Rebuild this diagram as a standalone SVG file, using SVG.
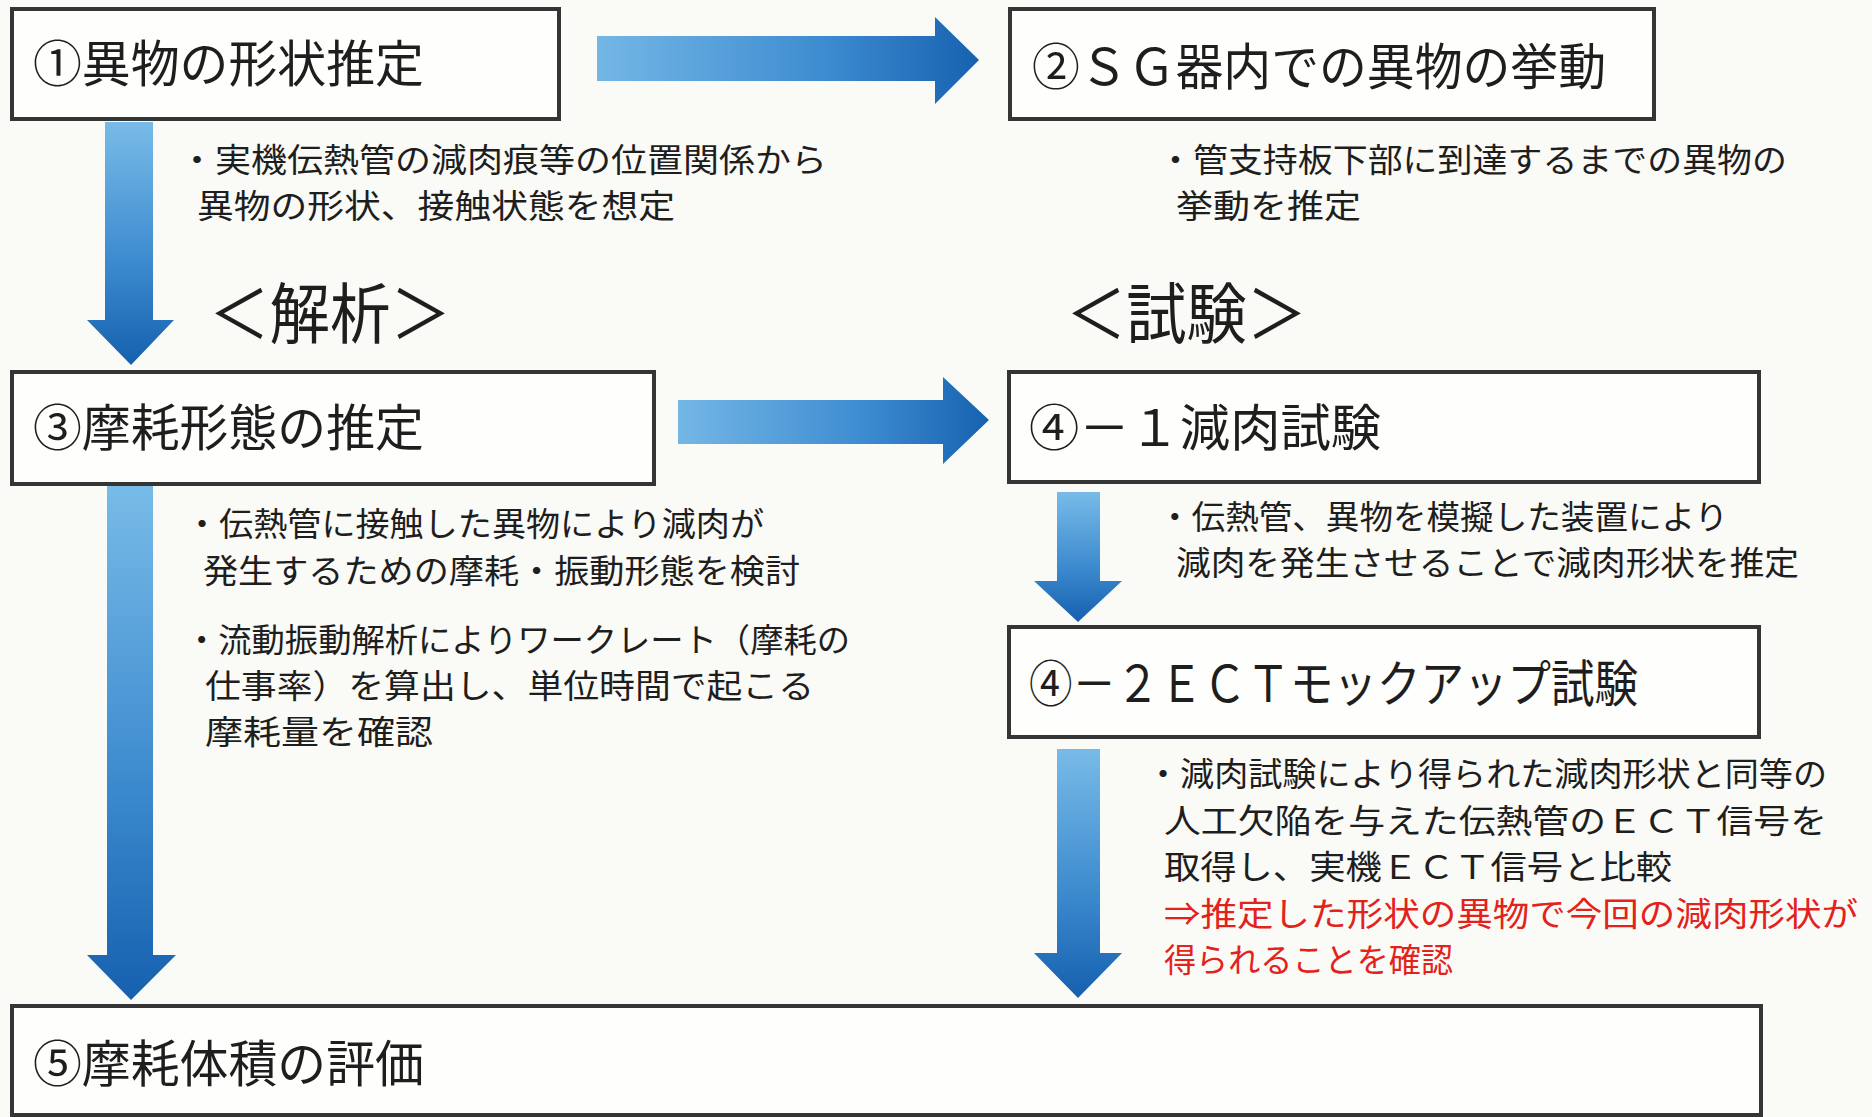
<svg xmlns="http://www.w3.org/2000/svg" width="1872" height="1117" viewBox="0 0 1872 1117">
<style>
.box{fill:#fefefc;stroke:#353535;stroke-width:4}
.t{font-family:"Noto Sans CJK JP","Noto Sans",sans-serif;fill:#1e1e1e}
.ttl{font-size:50px}
.bd{font-size:33px}
.big{font-size:66px}
.red{fill:#e3221c}
</style>
<defs>
<linearGradient id="gr" x1="0" y1="0" x2="1" y2="0">
<stop offset="0" stop-color="#74b7e6"/>
<stop offset="0.6" stop-color="#3d8bd0"/>
<stop offset="1" stop-color="#1762b0"/>
</linearGradient>
<linearGradient id="gd" x1="0" y1="0" x2="0" y2="1">
<stop offset="0" stop-color="#78bbe8"/>
<stop offset="0.6" stop-color="#3a88cd"/>
<stop offset="1" stop-color="#1660ae"/>
</linearGradient>
</defs>
<rect width="1872" height="1117" fill="#fafaf6"/>
<g id="connectors">
<path d="M597,36 H935 V17 L979,60 L935,104 V81 H597 Z" fill="url(#gr)"/>
<path d="M678,400 H943 V377 L989,420 L943,464 V444 H678 Z" fill="url(#gr)"/>
<path d="M105,122 H153 V320 H174 L131,365 L87,320 H105 Z" fill="url(#gd)"/>
<path d="M107,486 H153 V955 H176 L131,1000 L87,955 H107 Z" fill="url(#gd)"/>
<path d="M1057,492 H1100 V581 H1122 L1078,622 L1034,581 H1057 Z" fill="url(#gd)"/>
<path d="M1057,749 H1100 V953 H1122 L1078,998 L1034,953 H1057 Z" fill="url(#gd)"/>
</g>
<g id="node1">
<rect class="box" x="12" y="9" width="547" height="110"/>
<text class="t ttl" x="33" y="82" textLength="391" lengthAdjust="spacingAndGlyphs">①異物の形状推定</text>
<text class="t bd" x="179" y="172" textLength="648" lengthAdjust="spacingAndGlyphs">・実機伝熱管の減肉痕等の位置関係から</text>
<text class="t bd" x="197" y="218" textLength="478" lengthAdjust="spacingAndGlyphs">異物の形状、接触状態を想定</text>
</g>
<g id="node2">
<rect class="box" x="1010" y="9" width="644" height="110"/>
<text class="t ttl" x="1032" y="85" textLength="574" lengthAdjust="spacingAndGlyphs">②ＳＧ器内での異物の挙動</text>
<text class="t bd" x="1158" y="172" textLength="629" lengthAdjust="spacingAndGlyphs">・管支持板下部に到達するまでの異物の</text>
<text class="t bd" x="1176" y="218" textLength="185" lengthAdjust="spacingAndGlyphs">挙動を推定</text>
</g>
<g id="label-analysis">
<text class="t big" x="209" y="338" textLength="242" lengthAdjust="spacingAndGlyphs">＜解析＞</text>
</g>
<g id="label-test">
<text class="t big" x="1066" y="338" textLength="241" lengthAdjust="spacingAndGlyphs">＜試験＞</text>
</g>
<g id="node3">
<rect class="box" x="12" y="372" width="642" height="112"/>
<text class="t ttl" x="33" y="446" textLength="391" lengthAdjust="spacingAndGlyphs">③摩耗形態の推定</text>
<text class="t bd" x="185" y="536" textLength="579" lengthAdjust="spacingAndGlyphs">・伝熱管に接触した異物により減肉が</text>
<text class="t bd" x="203" y="583" textLength="597" lengthAdjust="spacingAndGlyphs">発生するための摩耗・振動形態を検討</text>
<text class="t bd" x="185" y="652" textLength="665" lengthAdjust="spacingAndGlyphs">・流動振動解析によりワークレート（摩耗の</text>
<text class="t bd" x="205" y="698" textLength="609" lengthAdjust="spacingAndGlyphs">仕事率）を算出し、単位時間で起こる</text>
<text class="t bd" x="205" y="744" textLength="228" lengthAdjust="spacingAndGlyphs">摩耗量を確認</text>
</g>
<g id="node4-1">
<rect class="box" x="1009" y="372" width="750" height="110"/>
<text class="t ttl" x="1029" y="446" textLength="352" lengthAdjust="spacingAndGlyphs">④－１減肉試験</text>
<text class="t bd" x="1158" y="529" textLength="570" lengthAdjust="spacingAndGlyphs">・伝熱管、異物を模擬した装置により</text>
<text class="t bd" x="1176" y="575" textLength="623" lengthAdjust="spacingAndGlyphs">減肉を発生させることで減肉形状を推定</text>
</g>
<g id="node4-2">
<rect class="box" x="1009" y="627" width="750" height="110"/>
<text class="t ttl" x="1029" y="702" textLength="609" lengthAdjust="spacingAndGlyphs">④－２ＥＣＴモックアップ試験</text>
<text class="t bd" x="1146" y="786" textLength="681" lengthAdjust="spacingAndGlyphs">・減肉試験により得られた減肉形状と同等の</text>
<text class="t bd" x="1164" y="833" textLength="663" lengthAdjust="spacingAndGlyphs">人工欠陥を与えた伝熱管のＥＣＴ信号を</text>
<text class="t bd" x="1164" y="879" textLength="508" lengthAdjust="spacingAndGlyphs">取得し、実機ＥＣＴ信号と比較</text>
<text class="t bd red" x="1164" y="926" textLength="694" lengthAdjust="spacingAndGlyphs">⇒推定した形状の異物で今回の減肉形状が</text>
<text class="t bd red" x="1164" y="972" textLength="289" lengthAdjust="spacingAndGlyphs">得られることを確認</text>
</g>
<g id="node5">
<rect class="box" x="12" y="1006" width="1749" height="109"/>
<text class="t ttl" x="33" y="1082" textLength="391" lengthAdjust="spacingAndGlyphs">⑤摩耗体積の評価</text>
</g>
</svg>
